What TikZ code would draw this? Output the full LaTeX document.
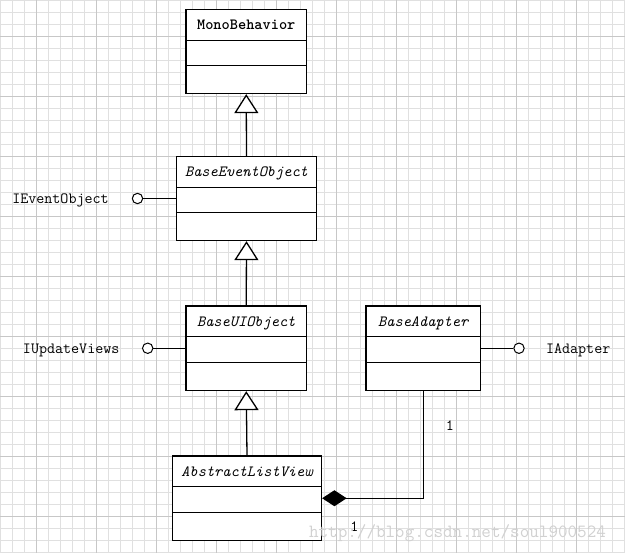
\documentclass[tikz,border=0pt]{standalone}
\usetikzlibrary{arrows.meta}
\tikzset{
  gridminor/.style={draw=black!12, line width=0.8pt},
  gridmajor/.style={draw=black!22, line width=0.8pt},
  classbox/.style={draw, fill=white, line width=1.3pt, inner sep=0pt},
  title/.style={anchor=base, font=\ttfamily\fontsize{15.6}{17}\selectfont},
  label/.style={anchor=base, font=\ttfamily\fontsize{15.6}{17}\selectfont},
  lolli/.style={circle, draw, fill=white, line width=1pt, minimum size=10.4pt, inner sep=0pt},
  inherit/.style={line width=1.3pt, -{Triangle[fill=white, length=19pt, width=24pt]}},
  compo/.style={line width=1.3pt, {Diamond[fill=black, length=24.5pt, width=16pt]}-},
}
\begin{document}
\begin{tikzpicture}[x=1pt,y=-1pt]
\useasboundingbox (0,0) rectangle (625,553);
% grid paper
\fill[white] (0,0) rectangle (625,553);
\foreach \x in {0,12,...,624} \draw[gridminor] (\x,0) -- (\x,553);
\foreach \y in {0,12,...,552} \draw[gridminor] (0,\y) -- (625,\y);
\foreach \x in {36,96,...,576} \draw[gridmajor] (\x,0) -- (\x,553);
\foreach \y in {36,96,...,516} \draw[gridmajor] (0,\y) -- (625,\y);
% classes
\node[classbox, minimum width=120.5pt, minimum height=84pt] (mono) at (246.25,51.5) {};
\node[classbox, minimum width=140pt, minimum height=84pt] (evt) at (246.5,198.5) {};
\node[classbox, minimum width=120.5pt, minimum height=84.5pt] (ui) at (246.25,348.25) {};
\node[classbox, minimum width=149pt, minimum height=84.5pt] (list) at (247,498.25) {};
\node[classbox, minimum width=114.5pt, minimum height=84.5pt] (adapt) at (423.25,348.25) {};
\foreach \c in {mono,evt,ui,list,adapt} {
  \draw[line width=1.3pt] ([yshift=-31.5pt]\c.north west) -- ([yshift=-31.5pt]\c.north east);
  \draw[line width=1.3pt] ([yshift=-57pt]\c.north west) -- ([yshift=-57pt]\c.north east);
}
\node[title] at ([yshift=-20.3pt]mono.north) {\bfseries MonoBehavior};
\node[title] at ([yshift=-20.3pt]evt.north) {\itshape BaseEventObject};
\node[title] at ([yshift=-20.7pt]ui.north) {\itshape BaseUIObject};
\node[title] at ([yshift=-20.7pt]list.north) {\itshape AbstractListView};
\node[title] at ([yshift=-20.7pt]adapt.north) {\itshape BaseAdapter};
% generalization
\draw[inherit] (evt.north) -- (mono.south);
\draw[inherit] (ui.north) -- (evt.south);
\draw[inherit] (list.north) -- (ui.south);
% interfaces
\node[lolli] (ievt) at (137.5,198.5) {};
\node[lolli] (iupd) at (147.7,348.25) {};
\node[lolli] (iadp) at (519,348.25) {};
\draw[line width=1.3pt] (evt.west |- ievt) -- (ievt);
\draw[line width=1.3pt] (ui.west |- iupd) -- (iupd);
\draw[line width=1.3pt] (adapt.east |- iadp) -- (iadp);
\node[label] (tevt) at (60.5,203.5) {IEventObject};
\node[label] (tupd) at (71.2,353.3) {IUpdateViews};
\node[label] (tadp) at (578.2,353.3) {IAdapter};
% composition
\draw[compo] (list.east) -| (adapt.south);
\node[label] (m1) at (450,431) {1};
\node[label] (m2) at (354.3,532) {1};
% watermark
\node[anchor=base, text=black!18, font=\ttfamily\fontsize{18.6}{20}\selectfont] (wm) at (457.5,538) {http://blog.csdn.net/soul900524};
\end{tikzpicture}
\end{document}
